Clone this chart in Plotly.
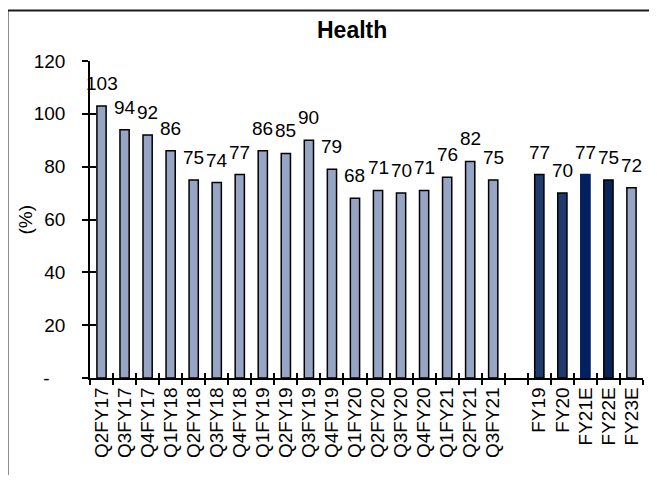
import plotly.graph_objects as go

categories = ["Q2FY17", "Q3FY17", "Q4FY17", "Q1FY18", "Q2FY18", "Q3FY18", "Q4FY18",
              "Q1FY19", "Q2FY19", "Q3FY19", "Q4FY19", "Q1FY20", "Q2FY20", "Q3FY20",
              "Q4FY20", "Q1FY21", "Q2FY21", "Q3FY21", " ",
              "FY19", "FY20", "FY21E", "FY22E", "FY23E"]
values = [103, 94, 92, 86, 75, 74, 77, 86, 85, 90, 79, 68, 71, 70, 71, 76, 82, 75, None,
          77, 70, 77, 75, 72]
ytick_vals = [0, 20, 40, 60, 80, 100, 120]
ytick_text = ["-\u00a0\u00a0\u00a0", "20", "40", "60", "80", "100", "120"]

LIGHT = "#97A5C5"
fill_colors = [LIGHT] * 18 + [LIGHT] + ["#1F3A6C", "#1F3A6C", "#002060", "#0B2457", LIGHT]
line_colors = ["#000000"] * 21 + ["#002060", "#000000", "#000000"]

FONT = "Liberation Sans, Arial, sans-serif"
FS = 19

fig = go.Figure()
fig.add_trace(go.Bar(
    x=categories, y=values, width=0.4,
    marker=dict(color=fill_colors, line=dict(color=line_colors, width=1.5)),
    showlegend=False, hoverinfo="x+y",
))
# helper trace for the inward half of the crossing ticks
fig.add_trace(go.Scatter(
    x=categories, y=[None] * len(categories), xaxis="x2", yaxis="y2",
    mode="markers", showlegend=False, hoverinfo="skip",
))

annotations = []
for c, v in zip(categories, values):
    if v is None:
        continue
    annotations.append(dict(
        x=c, y=v, xref="x", yref="y", text=str(v), showarrow=False,
        yanchor="bottom", xanchor="center", yshift=10,
        font=dict(family=FONT, size=FS, color="#000000"),
    ))
annotations.append(dict(
    x=0.474, y=1.098, xref="paper", yref="paper", text="<b>Health</b>",
    showarrow=False, xanchor="center", yanchor="middle",
    font=dict(family=FONT, size=23, color="#000000"),
))
annotations.append(dict(
    x=-0.1175, y=0.50, xref="paper", yref="paper", text="(%)", textangle=-90,
    showarrow=False, xanchor="center", yanchor="middle",
    font=dict(family=FONT, size=FS, color="#000000"),
))

fig.update_layout(
    width=649, height=467,
    margin=dict(l=82, r=14, t=53, b=97, pad=0),
    paper_bgcolor="white", plot_bgcolor="white",
    font=dict(family=FONT, size=FS, color="#000000"),
    bargap=0.6,
    annotations=annotations,
    xaxis=dict(
        type="category", categoryorder="array", categoryarray=categories,
        range=[-0.5, len(categories) - 0.5],
        showline=True, linecolor="#000000", linewidth=1.5,
        ticks="outside", tickson="boundaries", ticklen=5, tickwidth=1.5, tickcolor="#000000",
        tickangle=-90, tickfont=dict(family=FONT, size=FS, color="#000000"),
        showgrid=False, zeroline=False, fixedrange=True, automargin=False,
    ),
    yaxis=dict(
        range=[0, 120], tickvals=ytick_vals, ticktext=ytick_text,
        showline=True, linecolor="#000000", linewidth=1.5,
        ticks="outside", ticklen=6, tickwidth=1.5, tickcolor="#000000",
        ticklabelstandoff=13,
        tickfont=dict(family=FONT, size=FS, color="#000000"),
        showgrid=False, zeroline=False, fixedrange=True, automargin=False,
    ),
    xaxis2=dict(
        type="category", categoryorder="array", categoryarray=categories,
        range=[-0.5, len(categories) - 0.5], overlaying="x", anchor="y2",
        showline=False, ticks="inside", tickson="boundaries", ticklen=5, tickwidth=1.5,
        tickcolor="#000000", showticklabels=False, showgrid=False, zeroline=False,
        fixedrange=True,
    ),
    yaxis2=dict(
        range=[0, 120], tickvals=ytick_vals, overlaying="y", anchor="x2", side="left",
        showline=False, ticks="inside", ticklen=6, tickwidth=1.5, tickcolor="#000000",
        showticklabels=False, showgrid=False, zeroline=False, fixedrange=True,
    ),
    shapes=[dict(
        type="rect", xref="paper", yref="paper",
        x0=-0.1492, y0=-0.5, x1=1.2, y1=1.1593,
        line=dict(color="#1a1a1a", width=2), fillcolor="rgba(0,0,0,0)", layer="below",
    )],
)

fig.write_html("out.html")
